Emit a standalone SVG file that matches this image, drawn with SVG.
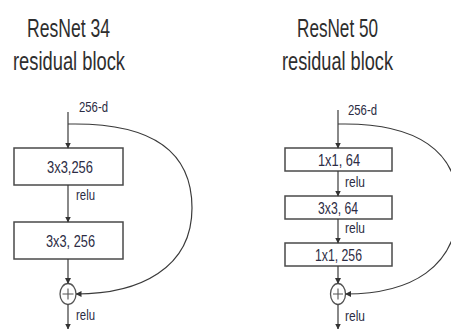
<svg xmlns="http://www.w3.org/2000/svg" width="451" height="329" viewBox="0 0 451 329">
  <defs>
    <marker id="arrow" markerUnits="userSpaceOnUse" markerWidth="6" markerHeight="6" refX="5.5" refY="3" orient="auto">
      <path d="M0,0 L6,3 L0,6 z" fill="#333"/>
    </marker>
    <style>
      .title { font-family: "Liberation Sans Narrow", "Liberation Sans", sans-serif; font-size: 25px; fill: #2e2e2e; text-anchor: middle; }
      .box rect { fill: #fff; stroke: #4a4a4a; stroke-width: 1.5; }
      .box text { font-family: "Liberation Sans Narrow", "Liberation Sans", sans-serif; font-size: 16.5px; fill: #2c2c44; text-anchor: middle; }
      .lbl { font-family: "Liberation Sans Narrow", "Liberation Sans", sans-serif; font-size: 14px; fill: #2c2c44; }
      .edge { fill: none; stroke: #3a3a3a; stroke-width: 1.2; marker-end: url(#arrow); }
      .sum ellipse { fill: #fff; stroke: #555; stroke-width: 1.3; }
      .sum path { stroke: #555; stroke-width: 1.1; fill: none; }
    </style>
  </defs>

  <!-- headings -->
  <text class="title" x="68.5" y="37" textLength="83" lengthAdjust="spacingAndGlyphs">ResNet 34</text>
  <text class="title" x="69" y="70" textLength="112" lengthAdjust="spacingAndGlyphs">residual block</text>
  <text class="title" x="337.5" y="37" textLength="81" lengthAdjust="spacingAndGlyphs">ResNet 50</text>
  <text class="title" x="337.5" y="70" textLength="111" lengthAdjust="spacingAndGlyphs">residual block</text>

  <!-- basic block (34 layers) -->
  <g id="r34-conv1" class="box">
    <rect x="14" y="148" width="109" height="37"/>
    <text x="70" y="172.5" textLength="46" lengthAdjust="spacingAndGlyphs">3x3,256</text>
  </g>
  <g id="r34-conv2" class="box">
    <rect x="14" y="222" width="109" height="37"/>
    <text x="70.5" y="246.5" textLength="49" lengthAdjust="spacingAndGlyphs">3x3, 256</text>
  </g>
  <g id="r34-add" class="sum">
    <ellipse cx="68" cy="294" rx="8" ry="10.5"/>
    <path d="M62.5,294 H73.5 M68,288.5 V299.5"/>
  </g>

  <!-- bottleneck block (50 layers) -->
  <g id="r50-conv1" class="box">
    <rect x="285" y="148" width="107" height="23"/>
    <text x="339" y="165.5" textLength="42" lengthAdjust="spacingAndGlyphs">1x1, 64</text>
  </g>
  <g id="r50-conv2" class="box">
    <rect x="285" y="196" width="107" height="23"/>
    <text x="338" y="213.5" textLength="40" lengthAdjust="spacingAndGlyphs">3x3, 64</text>
  </g>
  <g id="r50-conv3" class="box">
    <rect x="285" y="243" width="107" height="23"/>
    <text x="338.5" y="260.5" textLength="47" lengthAdjust="spacingAndGlyphs">1x1, 256</text>
  </g>
  <g id="r50-add" class="sum">
    <ellipse cx="338" cy="294" rx="7.5" ry="10.5"/>
    <path d="M333,294 H343 M338,288.5 V299.5"/>
  </g>

  <!-- connectors -->
  <g id="connectors">
    <path class="edge" d="M68,112 V148"/>
    <path class="edge" d="M68,185 V222"/>
    <path class="edge" d="M68,259 V283.5"/>
    <path class="edge" d="M68,304.5 V329"/>
    <path class="edge" d="M68,124 H75 C150,124 192,150 192,208 C192,268 140,294 76,294"/>

    <path class="edge" d="M338,110 V148"/>
    <path class="edge" d="M338,171 V196"/>
    <path class="edge" d="M338,219 V243"/>
    <path class="edge" d="M338,266 V283.5"/>
    <path class="edge" d="M338,304.5 V329"/>
    <path class="edge" d="M338,124 H345 C415,124 458,150 458,205 C458,268 410,294 345.5,294"/>

    <text class="lbl" x="79" y="112" textLength="29" lengthAdjust="spacingAndGlyphs">256-d</text>
    <text class="lbl" x="76" y="200" textLength="19" lengthAdjust="spacingAndGlyphs">relu</text>
    <text class="lbl" x="76" y="320" textLength="19" lengthAdjust="spacingAndGlyphs">relu</text>

    <text class="lbl" x="348" y="115" textLength="29" lengthAdjust="spacingAndGlyphs">256-d</text>
    <text class="lbl" x="345" y="187" textLength="20" lengthAdjust="spacingAndGlyphs">relu</text>
    <text class="lbl" x="345" y="233" textLength="20" lengthAdjust="spacingAndGlyphs">relu</text>
    <text class="lbl" x="345" y="321" textLength="20" lengthAdjust="spacingAndGlyphs">relu</text>
  </g>
</svg>
